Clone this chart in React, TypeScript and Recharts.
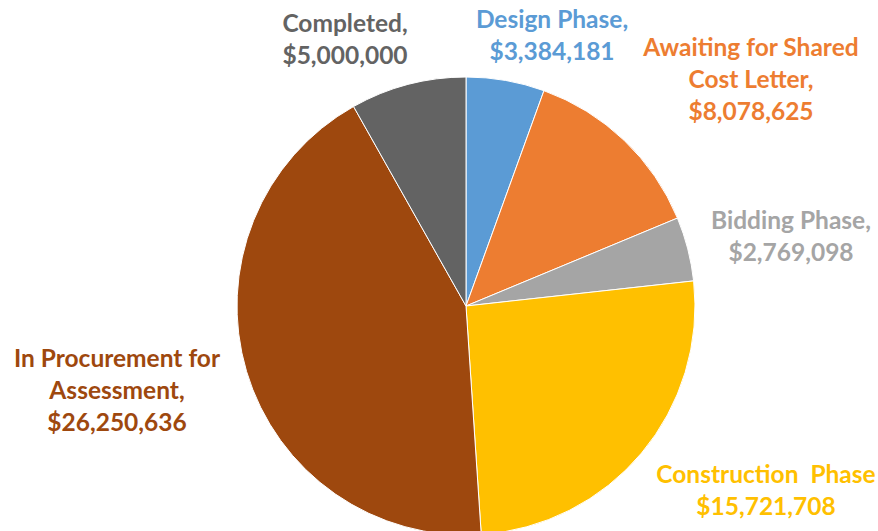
import React from 'react';
import { PieChart, Pie, Cell } from 'recharts';

const categories = [
  'Design Phase',
  'Awaiting for Shared Cost Letter',
  'Bidding Phase',
  'Construction Phase',
  'In Procurement for Assessment',
  'Completed',
];
const amounts = [3384181, 8078625, 2769098, 15721708, 26250636, 5000000];
const labelLines = [
  ['Design Phase,'],
  ['Awaiting for Shared', 'Cost Letter,'],
  ['Bidding Phase,'],
  ['Construction  Phase'],
  ['In Procurement for', 'Assessment,'],
  ['Completed,'],
];
const sliceColors = ['#5B9BD5', '#ED7D31', '#A5A5A5', '#FFC000', '#9E480E', '#636363'];
const textColors = ['#5B9BD5', '#ED7D31', '#A5A5A5', '#FFC000', '#9E480E', '#636363'];

// where each label sits, relative to the pie centre (x = text centre, y = first baseline)
const labelOffsets = [
  { dx: 86, dy: -278 },
  { dx: 285, dy: -250 },
  { dx: 325, dy: -77 },
  { dx: 300, dy: 177 },
  { dx: -349, dy: 61 },
  { dx: -121, dy: -274 },
];

const data = categories.map((name, i) => ({ name, value: amounts[i] }));

const money = (v: number) => '$' + v.toLocaleString('en-US');

const renderLabel = (props: any) => {
  const { cx, cy, index, value } = props;
  const off = labelOffsets[index];
  const lines = [...labelLines[index], money(value)];
  return (
    <text
      key={'lbl' + index}
      x={cx + off.dx}
      y={cy + off.dy}
      textAnchor="middle"
      fill={textColors[index]}
      fontFamily="Lato, 'Open Sans', sans-serif"
      fontWeight={700}
      fontSize={24.5}
    >
      {lines.map((l, j) => (
        <tspan key={j} x={cx + off.dx} dy={j === 0 ? 0 : 32} style={{ whiteSpace: 'pre' }}>
          {l}
        </tspan>
      ))}
    </text>
  );
};

export default function App() {
  return (
    <div style={{ position: 'absolute', left: 0, top: 0, background: '#fff' }}>
      <PieChart width={878} height={531} margin={{ top: 0, right: 0, bottom: 0, left: 0 }}>
        <Pie
          data={data}
          dataKey="value"
          nameKey="name"
          cx={466}
          cy={306}
          outerRadius={229}
          startAngle={90}
          endAngle={-270}
          stroke="#fff"
          strokeWidth={1}
          label={renderLabel}
          labelLine={false}
          isAnimationActive={false}
        >
          {data.map((d, i) => (
            <Cell key={d.name} fill={sliceColors[i]} />
          ))}
        </Pie>
      </PieChart>
    </div>
  );
}
